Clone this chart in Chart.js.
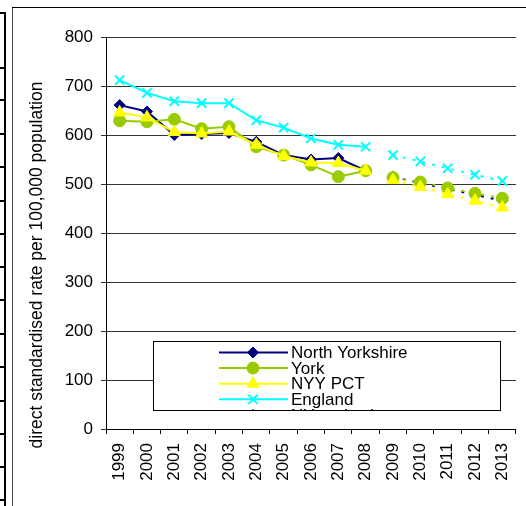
<!DOCTYPE html>
<html>
<head>
<meta charset="utf-8">
<script src="https://cdn.jsdelivr.net/npm/chart.js@4.4.1/dist/chart.umd.min.js"></script>
<style>
    html, body { margin: 0; padding: 0; width: 526px; height: 506px; overflow: hidden; background: #fff; }
    #wrap { position: relative; width: 526px; height: 506px; overflow: hidden; }
    .ln { position: absolute; background: #000; }
    #chartBox { position: absolute; left: 0; top: 0; width: 532px; height: 506px; }
</style>
</head>
<body>
<div id="wrap">
    <div id="cells"></div>
    <div class="ln" style="left:12px;top:7px;width:1px;height:499px;background:#444"></div>
    <div class="ln" style="left:12px;top:7px;width:514px;height:1px"></div>
    <div id="chartBox"><canvas id="rateChart"></canvas></div>
</div>
<script>
// 데이터
const years = ['1999', '2000', '2001', '2002', '2003', '2004', '2005', '2006', '2007', '2008', '2009', '2010', '2011', '2012', '2013'];

// 1999-2008 actual
const northYorkshire = [661, 648, 600, 602, 604, 586, 559, 550, 553, 527];
const york = [629, 627, 632, 613, 617, 576, 559, 539, 515, 527];
const nyyPct = [646, 636, 606, 603, 607, 580, 557, 544, 543, 527];
const england = [712, 686, 669, 665, 665, 630, 615, 593, 580, 576];

// 2009-2013 projection
const northYorkshireProj = [515, 502, 490, 478, 466];
const yorkProj = [513, 504, 492, 481, 471];
const nyyPctProj = [508, 494, 479, 466, 452];
const englandProj = [559, 546, 532, 519, 506];

const yTicks = [0, 100, 200, 300, 400, 500, 600, 700, 800];
const yTitle = 'direct standardised rate per 100,000 population';

const FONT = '"Liberation Sans", Arial, sans-serif';

// spreadsheet cell borders on the far left
const cellRows = [12, 67, 99, 133, 166, 200, 233, 266, 299, 333, 366, 400, 433, 466, 499];
let cells = document.getElementById('cells');
cells.innerHTML = `<div class="ln" style="left:4px;top:12px;width:2px;height:494px"></div>` +
    cellRows.map(y => `<div class="ln" style="left:0;top:${y}px;width:5px;height:2px"></div>`).join('');

function actual(values) {
    return values.concat(Array(years.length - values.length).fill(null));
}

function projection(values) {
    return Array(years.length - values.length).fill(null).concat(values);
}

function series(label, data, color, style, radius, order, dashed) {
    return {
        label: label,
        data: data,
        borderColor: color,
        backgroundColor: color,
        borderWidth: 2,
        borderDash: dashed ? [3, 7] : [],
        pointStyle: style,
        pointRadius: radius,
        pointBorderWidth: style === 'crossRot' ? 2 : 1,
        pointHoverRadius: radius,
        tension: 0,
        fill: false,
        order: order
    };
}

// 범례 박스 (잘린 상태)
const boxLegend = {
    id: 'boxLegend',
    afterDraw(chart) {
        const ctx = chart.ctx;
        const bx = 153.5, by = 341.5, bw = 347, bh = 69;
        ctx.save();
        ctx.fillStyle = '#fff';
        ctx.fillRect(bx, by, bw, bh);
        ctx.strokeStyle = '#000';
        ctx.lineWidth = 1;
        ctx.setLineDash([]);
        ctx.strokeRect(bx, by, bw, bh);
        ctx.beginPath();
        ctx.rect(bx + 0.5, by + 0.5, bw - 1, bh - 1);
        ctx.clip();

        chart.data.datasets.forEach((ds, i) => {
            const cy = 352.5 + i * 15.6;
            ctx.strokeStyle = ds.borderColor;
            ctx.lineWidth = 2;
            ctx.setLineDash(ds.borderDash);
            ctx.beginPath();
            ctx.moveTo(219, cy);
            ctx.lineTo(288, cy);
            ctx.stroke();
            ctx.setLineDash([]);

            ctx.fillStyle = ds.backgroundColor;
            ctx.lineWidth = ds.pointBorderWidth;
            Chart.helpers.drawPoint(ctx, {
                pointStyle: ds.pointStyle,
                radius: ds.pointRadius,
                rotation: 0,
                borderWidth: ds.pointBorderWidth
            }, 253, cy);

            ctx.fillStyle = '#000';
            ctx.font = '17px ' + FONT;
            ctx.textAlign = 'left';
            ctx.textBaseline = 'middle';
            ctx.fillText(ds.label, 291, cy + 1);
        });
        ctx.restore();

        // y축 제목
        ctx.save();
        ctx.translate(37, 265);
        ctx.rotate(-Math.PI / 2);
        ctx.fillStyle = '#000';
        ctx.font = '17.5px ' + FONT;
        ctx.textAlign = 'center';
        ctx.textBaseline = 'middle';
        ctx.fillText(yTitle, 0, 0);
        ctx.restore();
    }
};

Chart.defaults.font.family = FONT;
Chart.defaults.font.size = 17;
Chart.defaults.color = '#000';

let ctx = document.getElementById('rateChart').getContext('2d');
let rateChart = new Chart(ctx, {
    type: 'line',
    data: {
        labels: years,
        datasets: [
            series('North Yorkshire', actual(northYorkshire), '#000080', 'rectRot', 5.5, 4, false),
            series('York', actual(york), '#99CC00', 'circle', 6, 3, false),
            series('NYY PCT', actual(nyyPct), '#FFFF00', 'triangle', 7, 2, false),
            series('England', actual(england), '#00FFFF', 'crossRot', 6.5, 1, false),
            series('NY projection', projection(northYorkshireProj), '#000080', 'rectRot', 5.5, 4, true),
            series('York projection', projection(yorkProj), '#99CC00', 'circle', 6, 3, true),
            series('NYY PCT projection', projection(nyyPctProj), '#FFFF00', 'triangle', 7, 2, true),
            series('England projection', projection(englandProj), '#00FFFF', 'crossRot', 6.5, 1, true)
        ]
    },
    options: {
        responsive: true,
        maintainAspectRatio: false,
        animation: false,
        layout: { padding: { top: 37, right: 0, bottom: 0, left: 0 } },
        plugins: {
            legend: { display: false },
            tooltip: { enabled: false }
        },
        scales: {
            x: {
                offset: true,
                grid: { offset: true, drawOnChartArea: false, drawTicks: true, tickLength: 5, color: '#000' },
                border: { color: '#000', width: 1 },
                ticks: { minRotation: 90, maxRotation: 90, padding: 9, autoSkip: false },
                afterFit: s => { s.height = 77; }
            },
            y: {
                min: 0,
                max: 800,
                afterBuildTicks: s => { s.ticks = yTicks.map(v => ({ value: v })); },
                grid: { color: '#333', tickLength: 5 },
                border: { color: '#000', width: 1 },
                ticks: { padding: 8 },
                afterFit: s => { s.width = 106; }
            }
        }
    },
    plugins: [boxLegend]
});
</script>
</body>
</html>
